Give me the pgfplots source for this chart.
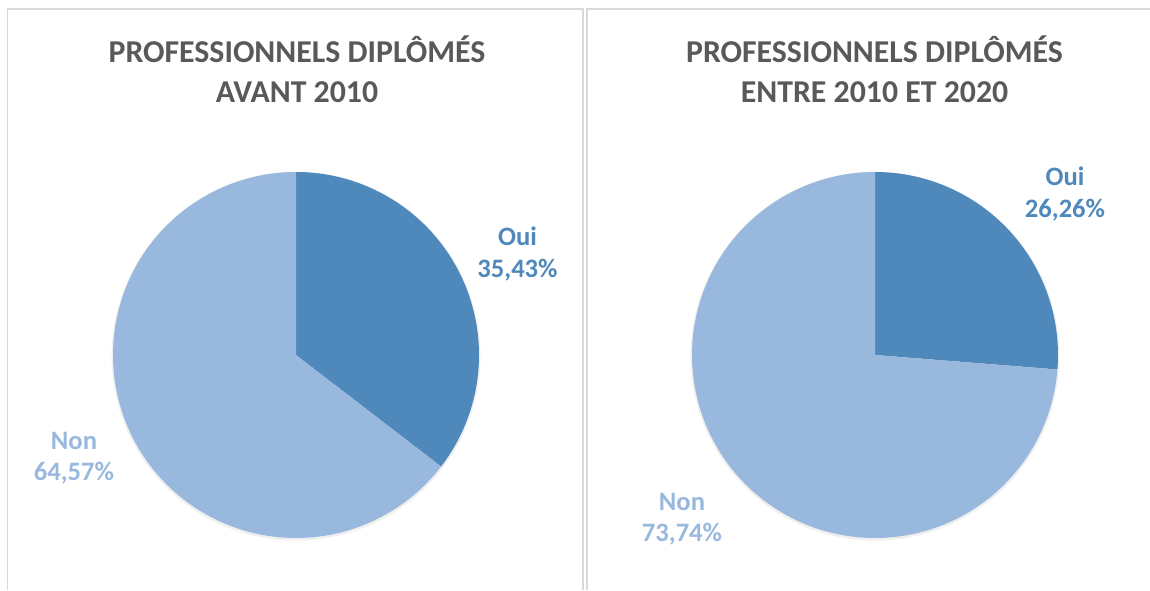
\documentclass[border=0pt]{standalone}
\usepackage{pgfplots}
\pgfplotsset{compat=1.18}
\usepackage{fontspec}
\setmainfont{Carlito}
\definecolor{oui}{HTML}{4F88BB}
\definecolor{non}{HTML}{98B8DE}
\definecolor{titlegray}{HTML}{595959}
\definecolor{frame}{HTML}{D9D9D9}
% values (percent)
\def\ouiA{35.43}\def\nonA{64.57}
\def\ouiB{26.26}\def\nonB{73.74}
\pgfmathsetmacro{\splitA}{90-3.6*\ouiA}
\pgfmathsetmacro{\splitB}{90-3.6*\ouiB}
\pgfplotsset{pie/.style={hide axis, scale only axis, width=183pt, height=183pt,
  xmin=-1,xmax=1,ymin=-1,ymax=1, clip=false, anchor=center}}
\begin{document}
\begin{tikzpicture}[x=1pt,y=1pt]
\useasboundingbox (0,0) rectangle (575,295);
% frames
\draw[frame, line width=0.8pt] (3.75,0) -- (3.75,290.5) -- (291.6,290.5) -- (291.6,0);
\draw[frame, line width=0.8pt] (293.6,0) -- (293.6,290.5) -- (576,290.5);
% left pie
\begin{axis}[pie, at={(148pt,117.5pt)}]
\addplot[fill=black!12, draw=none, opacity=0.5, domain=0:360, samples=200] ({1.008*cos(x)},{1.008*sin(x)-0.006});
\addplot[fill=oui, draw=none, domain=\splitA:90, samples=120] ({cos(x)},{sin(x)}) -- (axis cs:0,0) -- cycle;
\addplot[fill=non, draw=none, domain=-270:\splitA, samples=200] ({cos(x)},{sin(x)}) -- (axis cs:0,0) -- cycle;
\end{axis}
% right pie
\begin{axis}[pie, at={(437.5pt,117.5pt)}]
\addplot[fill=black!12, draw=none, opacity=0.5, domain=0:360, samples=200] ({1.008*cos(x)},{1.008*sin(x)-0.006});
\addplot[fill=oui, draw=none, domain=\splitB:90, samples=120] ({cos(x)},{sin(x)}) -- (axis cs:0,0) -- cycle;
\addplot[fill=non, draw=none, domain=-270:\splitB, samples=200] ({cos(x)},{sin(x)}) -- (axis cs:0,0) -- cycle;
\end{axis}
% titles
\begin{scope}[every node/.style={font=\fontsize{15.9}{18}\selectfont\bfseries, text=titlegray, anchor=base, inner sep=0pt}]
\node at (148.5,263.8) {PROFESSIONNELS DIPLÔMÉS};
\node at (148.5,243.8) {AVANT 2010};
\node at (437.25,263.8) {PROFESSIONNELS DIPLÔMÉS};
\node at (437.25,243.8) {ENTRE 2010 ET 2020};
\end{scope}
% labels
\begin{scope}[every node/.style={font=\fontsize{13.3}{15}\selectfont\bfseries, anchor=base, inner sep=0pt}]
\node[text=oui] at (258.75,172) {Oui};
\node[text=oui] at (258.75,156.2) {35,43\%};
\node[text=non] at (37,70.3) {Non};
\node[text=non] at (37,54.7) {64,57\%};
\node[text=oui] at (532.5,202.3) {Oui};
\node[text=oui] at (532.5,186.2) {26,26\%};
\node[text=non] at (341,39.8) {Non};
\node[text=non] at (341,24.2) {73,74\%};
\end{scope}
\end{tikzpicture}
\end{document}
